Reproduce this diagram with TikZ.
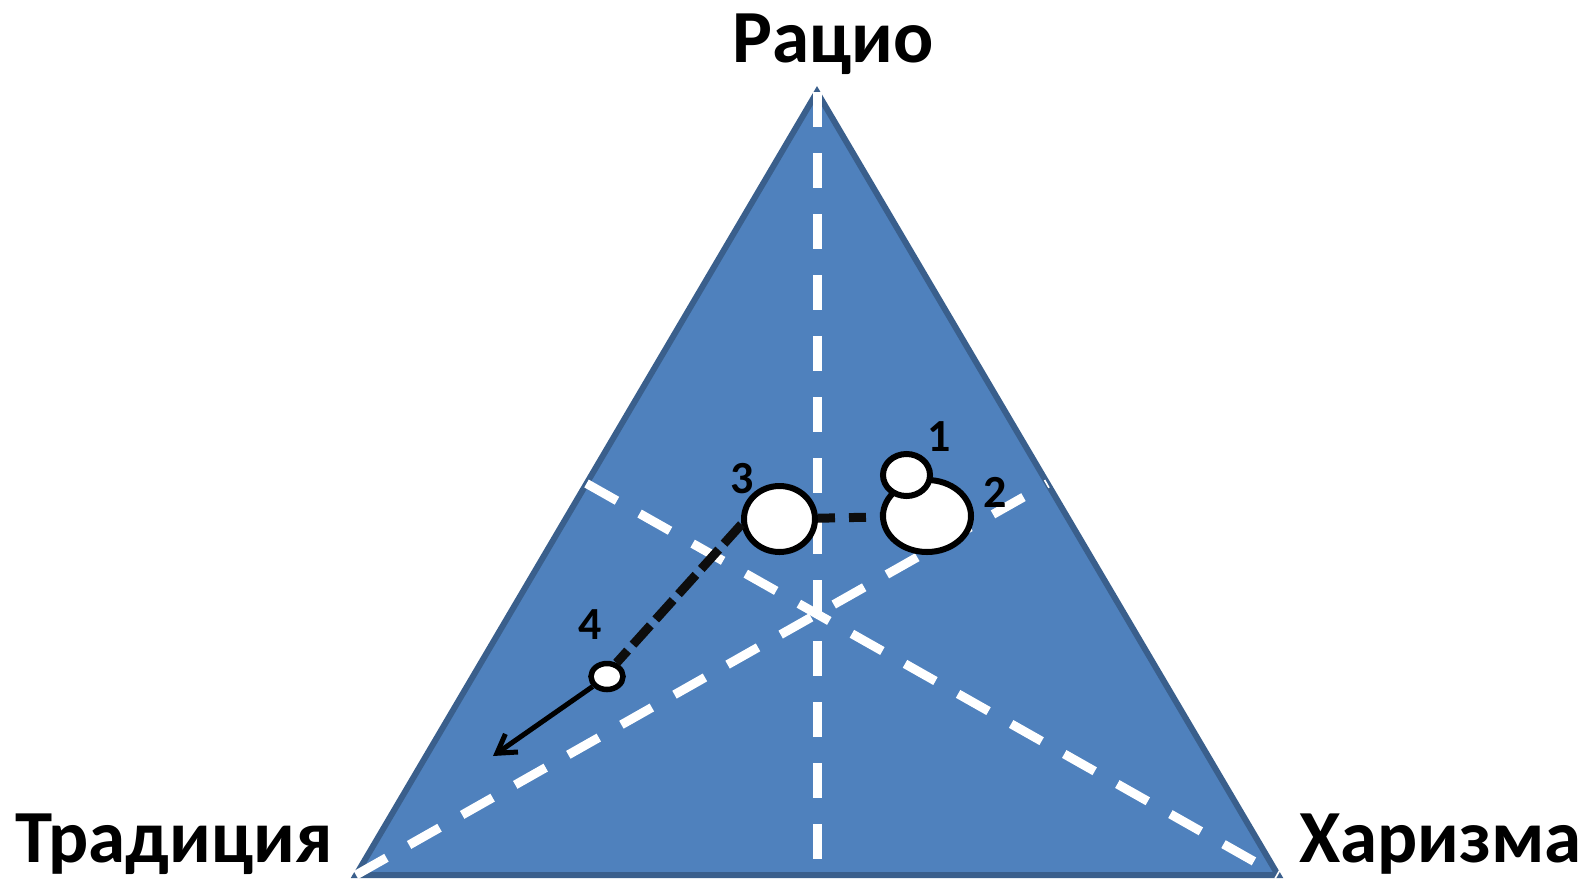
\documentclass[tikz,border=0pt]{standalone}
\usepackage{fontspec}
\setmainfont{Carlito}
\usepackage{xcolor}
\usetikzlibrary{shapes.geometric,arrows.meta,calc}

\definecolor{triblue}{RGB}{79,129,189}
\definecolor{triedge}{RGB}{58,95,140}

\begin{document}
\begin{tikzpicture}[x=1pt,y=1pt,yscale=-1,
  guide/.style={draw=white,line width=9pt,dash pattern=on 35pt off 26pt},
  blob/.style={ellipse,draw=black,fill=white,line width=6pt,inner sep=0pt},
  route/.style={draw=black!95,line width=9pt},
  corner/.style={font=\fontsize{75}{80}\selectfont\bfseries,inner sep=0pt},
  num/.style={font=\fontsize{46}{50}\selectfont\bfseries,inner sep=0pt}]
\useasboundingbox (0,0) rectangle (1585,879);

%Triangle
\coordinate (top) at (817,92);
\coordinate (bl) at (356,875);
\coordinate (br) at (1278,875);
\draw [fill=triblue,draw=triedge,line width=6pt] (top) -- (br) -- (bl) -- cycle ;

%Dashed medians
\draw [guide] (top) -- ($(bl)!0.5!(br)$) ;
\draw [guide] ($(top)!0.5!(bl)$) -- (br) ;
\draw [guide] (bl) -- ($(top)!0.5!(br)$) ;

%Ellipses
\node [blob,minimum width=88pt,minimum height=72pt] (e2) at (927,516) {};
\node [blob,minimum width=47pt,minimum height=42pt] (e1) at (906.5,475) {};
\node [blob,minimum width=71pt,minimum height=66pt] (e3) at (779.5,519) {};
\node [blob,minimum width=32pt,minimum height=26pt,line width=5.5pt] (e4) at (607,676.5) {};

%Paths between ellipses
\draw [route,dash pattern=on 17pt off 14pt] (e3) -- (e2) ;
\draw [route,dash pattern=on 26pt off 8pt] (e3.188) -- (e4.55) ;
\coordinate (tip) at (493,756);
\draw [line width=5pt,-{Straight Barb[length=18pt,width=22pt]}] (e4) -- (tip) ;

% Text Node
\node [num] (n1) at (939,437) {1};
% Text Node
\node [num] (n2) at (995,492) {2};
% Text Node
\node [num] (n3) at (742,479) {3};
% Text Node
\node [num] (n4) at (590,625) {4};

% Text Node
\node [corner,anchor=base] (ratio) at (833,62) {Рацио};
% Text Node
\node [corner,anchor=base west] (trad) at (15,862) {Традиция};
% Text Node
\node [corner,anchor=base west] (charisma) at (1299,862) {Харизма};

\end{tikzpicture}
\end{document}
